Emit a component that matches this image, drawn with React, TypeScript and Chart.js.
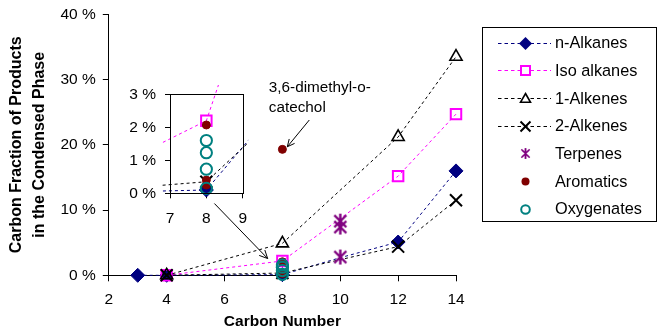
import React, { useEffect, useRef } from 'react';
import { Chart, registerables } from 'chart.js';
Chart.register(...registerables);

const FONT = '"Liberation Sans", Arial, Helvetica, sans-serif';

// ---------- data (carbon number, % carbon fraction) ----------
const seriesNames = ['n-Alkanes', 'Iso alkanes', '1-Alkenes', '2-Alkenes', 'Terpenes', 'Aromatics', 'Oxygenates'];

const nAlkanesX = [3, 4, 8, 10, 12, 14];
const nAlkanesY = [0, 0, 0.1, 2.7, 5.1, 16.0];

const isoAlkanesX = [4, 8, 12, 14];
const isoAlkanesY = [0, 2.2, 15.2, 24.7];

const alkenes1X = [4, 8, 12, 14];
const alkenes1Y = [0, 4.9, 21.2, 33.5];

const alkenes2X = [4, 8, 10, 12, 14];
const alkenes2Y = [0, 0.35, 2.4, 4.4, 11.5];

const terpenesX = [10, 10, 10];
const terpenesY = [8.3, 7.4, 2.8];

const aromaticsX = [8, 8, 8, 8];
const aromaticsY = [2.07, 0.4, 0.25, 19.3];

const oxygenatesX = [8, 8, 8, 8];
const oxygenatesY = [1.6, 1.23, 0.73, 0.15];

const mainXTicks = [2, 4, 6, 8, 10, 12, 14];
const mainYTicks = [0, 10, 20, 30, 40];
const insetXTicks = [7, 8, 9];
const insetYTicks = [0, 1, 2, 3];

// annotations in main-chart data coordinates
const catecholLabel = ['3,6-dimethyl-o-', 'catechol'];
const catecholLabelPos = [7.53, 28.7];
const catecholArrow = [[8.93, 23.8], [8.17, 19.7]];
const insetArrow = [[5.65, 11.0], [7.49, 2.57]];

// ---------- styles ----------
const NAVY = '#000080';
const MAGENTA = '#FF00FF';
const BLACK = '#000000';
const PURPLE = '#800080';
const DARKRED = '#800000';
const TEAL = '#008080';
const NONE = 'rgba(0,0,0,0)';

function makeStar(size: number, lw: number, color: string) {
  const c = document.createElement('canvas');
  c.width = size;
  c.height = size;
  const g = c.getContext('2d')!;
  g.strokeStyle = color;
  g.lineWidth = lw;
  const m = size / 2;
  const r = size / 2 - 1;
  const d = r * 0.8;
  g.beginPath();
  g.moveTo(m, m - r);
  g.lineTo(m, m + r);
  g.moveTo(m - d, m - d);
  g.lineTo(m + d, m + d);
  g.moveTo(m + d, m - d);
  g.lineTo(m - d, m + d);
  g.stroke();
  return c;
}

const pts = (xs: number[], ys: number[]) => xs.map((x, i) => ({ x, y: ys[i] }));
// markers at C10 for n-/2-alkenes sit hidden behind the terpene stars in the original
const hideAt = (xs: number[], hidden: number, r: number) => xs.map(x => (x === hidden ? 0 : r));

function buildDatasets(star: HTMLCanvasElement, clip: any) {
  return [
    {
      label: seriesNames[0], data: pts(nAlkanesX, nAlkanesY), showLine: true,
      borderColor: NAVY, borderWidth: 1, borderDash: [3, 3],
      pointStyle: 'rectRot', pointRadius: hideAt(nAlkanesX, 10, 7), pointBackgroundColor: NAVY, pointBorderColor: NAVY, pointBorderWidth: 1,
      order: 7, clip,
    },
    {
      label: seriesNames[1], data: pts(isoAlkanesX, isoAlkanesY), showLine: true,
      borderColor: MAGENTA, borderWidth: 1, borderDash: [3, 3],
      pointStyle: 'rect', pointRadius: 7.4, pointBackgroundColor: NONE, pointBorderColor: MAGENTA, pointBorderWidth: 2,
      order: 6, clip,
    },
    {
      label: seriesNames[2], data: pts(alkenes1X, alkenes1Y), showLine: true,
      borderColor: BLACK, borderWidth: 1, borderDash: [3, 3],
      pointStyle: 'triangle', pointRadius: 7, pointBackgroundColor: NONE, pointBorderColor: BLACK, pointBorderWidth: 1.6,
      order: 5, clip,
    },
    {
      label: seriesNames[3], data: pts(alkenes2X, alkenes2Y), showLine: true,
      borderColor: BLACK, borderWidth: 1, borderDash: [3, 3],
      pointStyle: 'crossRot', pointRadius: hideAt(alkenes2X, 10, 8.5), pointBackgroundColor: NONE, pointBorderColor: BLACK, pointBorderWidth: 2,
      order: 4, clip,
    },
    {
      label: seriesNames[4], data: pts(terpenesX, terpenesY), showLine: false,
      pointStyle: star, pointRadius: 8, pointBorderColor: PURPLE, pointBackgroundColor: PURPLE,
      order: 3, clip,
    },
    {
      label: seriesNames[5], data: pts(aromaticsX, aromaticsY), showLine: false,
      pointStyle: 'circle', pointRadius: 4, pointBackgroundColor: DARKRED, pointBorderColor: DARKRED, pointBorderWidth: 1,
      order: 2, clip,
    },
    {
      label: seriesNames[6], data: pts(oxygenatesX, oxygenatesY), showLine: false,
      pointStyle: 'circle', pointRadius: 5.6, pointBackgroundColor: NONE, pointBorderColor: TEAL, pointBorderWidth: 2,
      order: 1, clip,
    },
  ];
}

function arrow(ctx: CanvasRenderingContext2D, a: number[], b: number[], head: number) {
  const ang = Math.atan2(b[1] - a[1], b[0] - a[0]);
  ctx.beginPath();
  ctx.moveTo(a[0], a[1]);
  ctx.lineTo(b[0], b[1]);
  for (const s of [-1, 1]) {
    ctx.moveTo(b[0], b[1]);
    ctx.lineTo(b[0] - head * Math.cos(ang + s * 0.45), b[1] - head * Math.sin(ang + s * 0.45));
  }
  ctx.stroke();
}

function drawLegendMarker(ctx: CanvasRenderingContext2D, i: number, x: number, y: number, star: HTMLCanvasElement) {
  ctx.save();
  ctx.setLineDash([]);
  switch (i) {
    case 0:
      ctx.fillStyle = NAVY;
      ctx.beginPath();
      ctx.moveTo(x, y - 6.5); ctx.lineTo(x + 6.5, y); ctx.lineTo(x, y + 6.5); ctx.lineTo(x - 6.5, y);
      ctx.closePath(); ctx.fill();
      break;
    case 1:
      ctx.fillStyle = '#fff';
      ctx.fillRect(x - 4.5, y - 4.5, 9, 9);
      ctx.strokeStyle = MAGENTA; ctx.lineWidth = 2;
      ctx.strokeRect(x - 4.5, y - 4.5, 9, 9);
      break;
    case 2:
      ctx.fillStyle = '#fff';
      ctx.strokeStyle = BLACK; ctx.lineWidth = 1.6;
      ctx.beginPath();
      ctx.moveTo(x, y - 5); ctx.lineTo(x + 5, y + 3.8); ctx.lineTo(x - 5, y + 3.8); ctx.closePath();
      ctx.fill(); ctx.stroke();
      break;
    case 3:
      ctx.strokeStyle = BLACK; ctx.lineWidth = 2;
      ctx.beginPath();
      ctx.moveTo(x - 5, y - 5); ctx.lineTo(x + 5, y + 5);
      ctx.moveTo(x + 5, y - 5); ctx.lineTo(x - 5, y + 5);
      ctx.stroke();
      break;
    case 4:
      ctx.drawImage(star, x - 6, y - 6, 12, 12);
      break;
    case 5:
      ctx.fillStyle = DARKRED;
      ctx.beginPath(); ctx.arc(x, y, 4, 0, Math.PI * 2); ctx.fill();
      break;
    case 6:
      ctx.strokeStyle = TEAL; ctx.lineWidth = 2;
      ctx.beginPath(); ctx.arc(x, y, 4.3, 0, Math.PI * 2); ctx.stroke();
      break;
  }
  ctx.restore();
}

const lineColors = [NAVY, MAGENTA, BLACK, BLACK];

export default function App() {
  const mainRef = useRef<HTMLCanvasElement>(null);
  const insetRef = useRef<HTMLCanvasElement>(null);

  useEffect(() => {
    const star = makeStar(17, 2.4, PURPLE);
    const xTickFont = { family: FONT, size: 15.5 };
    const yTickFontMain = { family: FONT, size: 15.5, lineHeight: 0.9 };
    const yTickFontInset = { family: FONT, size: 15.5, lineHeight: 0.65 };

    const annotPlugin = {
      id: 'annot',
      afterDraw(chart: any) {
        const { ctx, scales } = chart;
        const P = (p: number[]) => [scales.x.getPixelForValue(p[0]), scales.y.getPixelForValue(p[1])];
        ctx.save();
        ctx.strokeStyle = BLACK;
        ctx.lineWidth = 1;
        ctx.setLineDash([]);
        arrow(ctx, P(insetArrow[0]), P(insetArrow[1]), 9);
        arrow(ctx, P(catecholArrow[0]), P(catecholArrow[1]), 8);
        ctx.fillStyle = BLACK;
        ctx.font = `15.3px ${FONT}`;
        ctx.textAlign = 'left';
        ctx.textBaseline = 'middle';
        const lp = P(catecholLabelPos);
        catecholLabel.forEach((t, i) => ctx.fillText(t, lp[0], lp[1] + i * 20));

        // legend
        const lx = 482.5, ly = 27.5, lw = 174, lh = 194;
        ctx.strokeStyle = BLACK;
        ctx.lineWidth = 1;
        ctx.strokeRect(lx, ly, lw, lh);
        ctx.font = `16.3px ${FONT}`;
        seriesNames.forEach((name, i) => {
          const y = 42.7 + i * 27.67;
          if (i < 4) {
            ctx.save();
            ctx.strokeStyle = lineColors[i];
            ctx.lineWidth = 1;
            ctx.setLineDash([3.5, 3]);
            ctx.beginPath();
            ctx.moveTo(498, Math.round(y) + 0.5);
            ctx.lineTo(551, Math.round(y) + 0.5);
            ctx.stroke();
            ctx.restore();
          }
          drawLegendMarker(ctx, i, 525.5, Math.round(y) + 0.5, star);
          ctx.fillStyle = BLACK;
          ctx.fillText(name, 555, y + 1);
        });
        ctx.restore();
      },
    };

    const main = new Chart(mainRef.current!, {
      type: 'scatter',
      data: { datasets: buildDatasets(star, false) as any },
      options: {
        responsive: false,
        animation: false,
        events: [],
        layout: { padding: { left: 0, top: 14.3, right: 210, bottom: 0 } },
        plugins: { legend: { display: false }, tooltip: { enabled: false } },
        scales: {
          x: {
            type: 'linear', min: 2, max: 14,
            afterBuildTicks: (s: any) => { s.ticks = mainXTicks.map(v => ({ value: v })); },
            ticks: { font: xTickFont, color: BLACK, padding: 9 },
            grid: { drawOnChartArea: false, drawTicks: true, tickLength: 6, color: BLACK },
            border: { color: BLACK, width: 1 },
            title: { display: true, text: 'Carbon Number', color: BLACK, font: { family: FONT, size: 15.5, weight: 'bold' }, padding: { top: 0, bottom: 4 } },
            afterFit: (s: any) => { s.height = 59.7; },
          },
          y: {
            type: 'linear', min: 0, max: 40,
            afterBuildTicks: (s: any) => { s.ticks = mainYTicks.map(v => ({ value: v })); },
            ticks: { font: yTickFontMain, color: BLACK, padding: 7, callback: (v: any) => `${v} %` },
            grid: { drawOnChartArea: false, drawTicks: true, tickLength: 6, color: BLACK },
            border: { color: BLACK, width: 1 },
            title: { display: true, text: ['Carbon Fraction of Products', 'in the Condensed Phase'], color: BLACK, font: { family: FONT, size: 16, weight: 'bold', lineHeight: 1.45 }, padding: { top: 5, bottom: 0 } },
            afterFit: (s: any) => { s.width = 108.8; },
          },
        },
      },
      plugins: [annotPlugin],
    });

    const boxPlugin = {
      id: 'box',
      afterDraw(chart: any) {
        const { ctx, chartArea: a } = chart;
        ctx.save();
        ctx.strokeStyle = BLACK;
        ctx.lineWidth = 1;
        ctx.setLineDash([]);
        ctx.strokeRect(Math.round(a.left) + 0.5, Math.round(a.top) + 0.5, Math.round(a.right - a.left), Math.round(a.bottom - a.top));
        ctx.restore();
      },
    };

    const inset = new Chart(insetRef.current!, {
      type: 'scatter',
      data: { datasets: buildDatasets(star, { left: 8.5, top: 9.3, right: 5.5, bottom: 12 }) as any },
      options: {
        responsive: false,
        animation: false,
        events: [],
        layout: { padding: { left: 0, top: 14.3, right: 17.3, bottom: 0 } },
        plugins: { legend: { display: false }, tooltip: { enabled: false } },
        scales: {
          x: {
            type: 'linear', min: 7, max: 9,
            afterBuildTicks: (s: any) => { s.ticks = insetXTicks.map(v => ({ value: v })); },
            ticks: { font: xTickFont, color: BLACK, padding: 11 },
            grid: { drawOnChartArea: false, drawTicks: true, tickLength: 5, color: BLACK },
            border: { color: BLACK, width: 1 },
            afterFit: (s: any) => { s.height = 36.7; },
          },
          y: {
            type: 'linear', min: 0, max: 3,
            afterBuildTicks: (s: any) => { s.ticks = insetYTicks.map(v => ({ value: v })); },
            ticks: { font: yTickFontInset, color: BLACK, padding: 9, callback: (v: any) => `${v} %` },
            grid: { drawOnChartArea: false, drawTicks: true, tickLength: 5, color: BLACK },
            border: { color: BLACK, width: 1 },
            afterFit: (s: any) => { s.width = 70; },
          },
        },
      },
      plugins: [boxPlugin],
    });

    return () => {
      main.destroy();
      inset.destroy();
    };
  }, []);

  return (
    <div style={{ position: 'absolute', left: 0, top: 0, width: 666, height: 335, background: '#fff' }}>
      <canvas ref={mainRef} width={666} height={335} style={{ position: 'absolute', left: 0, top: 0 }} />
      <canvas ref={insetRef} width={160} height={150} style={{ position: 'absolute', left: 100, top: 80 }} />
    </div>
  );
}
